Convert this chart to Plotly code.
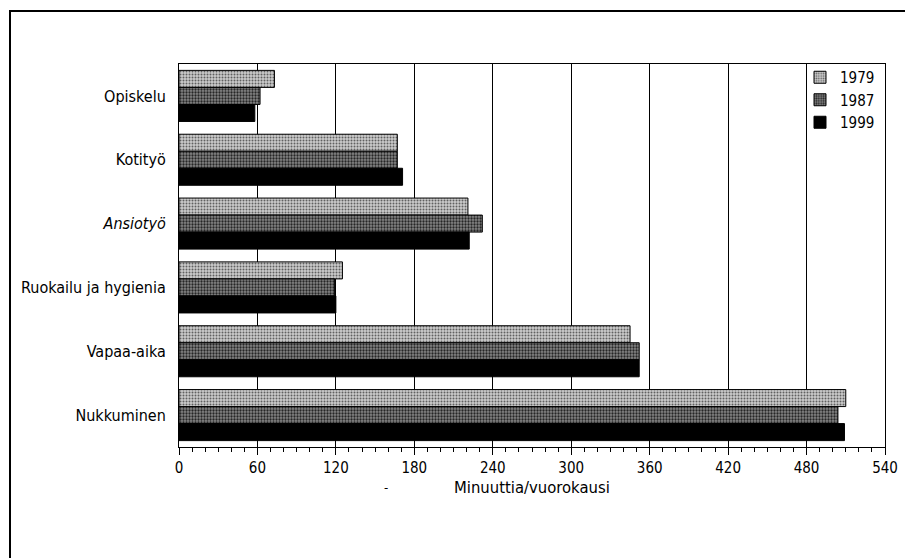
import plotly.graph_objects as go

categories = ["Opiskelu", "Kotityö", "Ansiotyö", "Ruokailu ja hygienia", "Vapaa-aika", "Nukkuminen"]
category_labels = ["Opiskelu", "Kotityö", "<i>Ansiotyö</i>", "Ruokailu ja hygienia", "Vapaa-aika", "Nukkuminen"]
years = ["1979", "1987", "1999"]
v1979 = [73, 167, 221, 125, 345, 510]
v1987 = [62, 167, 232, 119, 352, 504]
v1999 = [58, 171, 222, 120, 352, 509]
x_ticks = [0, 60, 120, 180, 240, 300, 360, 420, 480, 540]
x_title = "Minuuttia/vuorokausi"

FONT = "Liberation Sans Narrow, DejaVu Sans Condensed, Arial Narrow, sans-serif"

styles = [
    dict(color="#c0c0c0", pattern=dict(shape=".", bgcolor="#cccccc", fgcolor="#606060", size=3, solidity=0.35, fillmode="replace")),
    dict(color="#707070", pattern=dict(shape=".", bgcolor="#868686", fgcolor="#262626", size=3, solidity=0.45, fillmode="replace")),
    dict(color="#000000"),
]

fig = go.Figure()
for name, vals, st in zip(years, [v1979, v1987, v1999], styles):
    fig.add_trace(go.Bar(
        y=categories, x=vals, name=name, orientation="h",
        marker=dict(line=dict(color="#000", width=1), **st),
    ))

# page body has an 8px margin: figure is drawn at screen offset (8, 8)
OFF = 8
W, H = 913 - OFF, 558 - OFF
PX0, PX1, PY0, PY1 = 179, 885, 64, 447  # plot area in screen pixels
L, R = PX0 - OFF, W - (PX1 - OFF)
T, B = PY0 - OFF, H - (PY1 - OFF)

def px(x):
    return (x - PX0) / (PX1 - PX0)

def py(y):
    return (PY1 - y) / (PY1 - PY0)

fig.update_layout(
    width=W, height=H,
    margin=dict(l=L, r=R, t=T, b=B, autoexpand=False),
    paper_bgcolor="white", plot_bgcolor="white",
    barmode="group", bargap=0.2, bargroupgap=0,
    font=dict(family=FONT, size=15, color="#000"),
    showlegend=True,
    legend=dict(x=px(800), y=py(61), xanchor="left", yanchor="top",
                bgcolor="rgba(0,0,0,0)", traceorder="normal", font=dict(size=15),
                itemwidth=30, tracegroupgap=0),
    xaxis=dict(range=[0, 540], tickvals=x_ticks, ticktext=[str(t) for t in x_ticks],
               showgrid=True, gridcolor="#000", gridwidth=1,
               showline=True, linecolor="#000", linewidth=1, mirror=True,
               ticks="outside", ticklen=7, tickcolor="#000",
               minor=dict(dtick=10, ticks="outside", ticklen=4, tickcolor="#000", showgrid=False),
               tickfont=dict(size=15),
               zeroline=False, fixedrange=True),
    yaxis=dict(categoryorder="array", categoryarray=categories, autorange="reversed",
               tickvals=categories, ticktext=category_labels,
               tickfont=dict(size=16),
               showgrid=False, showline=True, linecolor="#000", linewidth=1, mirror=True,
               ticks="", ticklabelstandoff=9, zeroline=False),
    annotations=[
        dict(text=x_title, x=0.5, y=py(487), xref="paper", yref="paper",
             showarrow=False, xanchor="center", yanchor="middle", font=dict(size=16.5)),
        dict(text="-", x=px(386), y=py(487), xref="paper", yref="paper",
             showarrow=False, xanchor="center", yanchor="middle", font=dict(size=13)),
    ],
    shapes=[
        dict(type="rect", xref="paper", yref="paper",
             x0=px(10), x1=px(930), y0=py(580), y1=py(11),
             line=dict(color="#000", width=2), fillcolor="rgba(0,0,0,0)", layer="above"),
    ],
)

fig.write_html("out.html")
